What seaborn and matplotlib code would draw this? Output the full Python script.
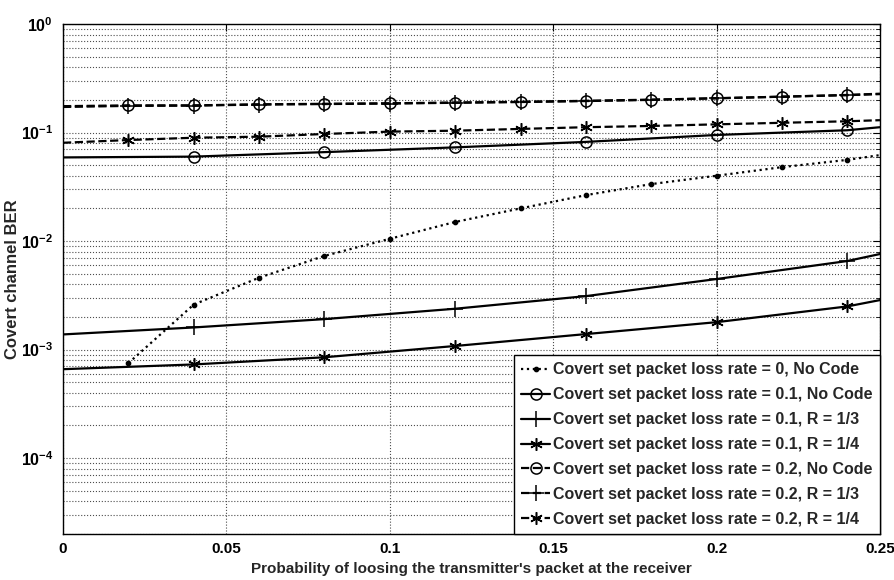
import matplotlib
matplotlib.use("Agg")
import matplotlib.pyplot as plt
import numpy as np
import seaborn as sns
from matplotlib.ticker import FixedLocator, FuncFormatter, LogLocator, NullFormatter

sns.set_style("white")
plt.rcParams["font.family"] = ["Liberation Sans", "DejaVu Sans"]
plt.rcParams["font.weight"] = "bold"
plt.rcParams["mathtext.fontset"] = "custom"
plt.rcParams["mathtext.rm"] = "Liberation Sans:bold"
plt.rcParams["mathtext.bf"] = "Liberation Sans:bold"

# x grids used by the curves
x_fine = [0.0, 0.02, 0.04, 0.06, 0.08, 0.10, 0.12, 0.14, 0.16, 0.18, 0.20, 0.22, 0.24, 0.25]
x_dot = [0.02, 0.04, 0.06, 0.08, 0.10, 0.12, 0.14, 0.16, 0.18, 0.20, 0.22, 0.24, 0.25]
x_coarse = [0.0, 0.04, 0.08, 0.12, 0.16, 0.20, 0.24, 0.25]

# BER values
ber_p0_nocode = [7.5e-4, 2.6e-3, 4.6e-3, 7.3e-3, 1.05e-2, 1.5e-2, 2.0e-2, 2.65e-2,
                 3.35e-2, 4.0e-2, 4.8e-2, 5.6e-2, 6.2e-2]
ber_p1_nocode = [5.9e-2, 6.0e-2, 6.6e-2, 7.3e-2, 8.2e-2, 9.5e-2, 0.105, 0.112]
ber_p1_r13 = [1.38e-3, 1.6e-3, 1.91e-3, 2.38e-3, 3.11e-3, 4.47e-3, 6.55e-3, 7.6e-3]
ber_p1_r14 = [6.6e-4, 7.3e-4, 8.5e-4, 1.08e-3, 1.39e-3, 1.79e-3, 2.5e-3, 2.86e-3]
ber_p2_nocode = [0.175, 0.178, 0.178, 0.182, 0.184, 0.186, 0.189, 0.192, 0.196,
                 0.201, 0.207, 0.214, 0.221, 0.226]
ber_p2_r13 = [0.172, 0.176, 0.177, 0.181, 0.183, 0.185, 0.188, 0.191, 0.195,
              0.200, 0.207, 0.214, 0.222, 0.228]
ber_p2_r14 = [0.0805, 0.0853, 0.0896, 0.0916, 0.097, 0.102, 0.104, 0.108, 0.112,
              0.115, 0.119, 0.123, 0.127, 0.130]

labels = [
    "Covert set packet loss rate = 0, No Code",
    "Covert set packet loss rate = 0.1, No Code",
    "Covert set packet loss rate = 0.1, R = 1/3",
    "Covert set packet loss rate = 0.1, R = 1/4",
    "Covert set packet loss rate = 0.2, No Code",
    "Covert set packet loss rate = 0.2, R = 1/3",
    "Covert set packet loss rate = 0.2, R = 1/4",
]

asterisk = (6, 2, 0)
series = [
    (x_dot, ber_p0_nocode, ":", ".", 6, slice(0, 12)),
    (x_coarse, ber_p1_nocode, "-", "o", 8, slice(1, 7)),
    (x_coarse, ber_p1_r13, "-", "+", 11, slice(1, 7)),
    (x_coarse, ber_p1_r14, "-", asterisk, 9, slice(1, 7)),
    (x_fine, ber_p2_nocode, "--", "o", 8, slice(1, 13)),
    (x_fine, ber_p2_r13, "--", "+", 11, slice(1, 13)),
    (x_fine, ber_p2_r14, "--", asterisk, 9, slice(1, 13)),
]

fig = plt.figure(figsize=(8.95, 5.8), dpi=100)
ax = fig.add_axes([0.0704, 0.0793, 0.9128, 0.8793])

for (xs, ys, ls, mk, ms, every), lab in zip(series, labels):
    sns.lineplot(
        x=xs, y=ys, ax=ax, color="black", linestyle=ls, linewidth=1.6,
        marker=mk, markersize=ms, markevery=every,
        markerfacecolor="black" if mk == "." else "none",
        markeredgecolor="black", markeredgewidth=1.1,
        label=lab, errorbar=None,
    )

ax.set_yscale("log")
ax.set_xlim(0, 0.25)
ax.set_ylim(2e-5, 1)

ax.xaxis.set_major_locator(FixedLocator([0, 0.05, 0.1, 0.15, 0.2, 0.25]))
ax.xaxis.set_major_formatter(FuncFormatter(lambda v, _: f"{v:g}"))
ax.yaxis.set_major_locator(FixedLocator([1e-4, 1e-3, 1e-2, 1e-1, 1]))
ax.yaxis.set_major_formatter(
    FuncFormatter(lambda v, _: r"$\mathbf{10^{%d}}$" % round(np.log10(v))))
ax.yaxis.set_minor_locator(LogLocator(base=10, subs=np.arange(2, 10), numticks=20))
ax.yaxis.set_minor_formatter(NullFormatter())

ax.grid(True, which="both", axis="y", linestyle=":", color="0.3", linewidth=0.8)
ax.grid(True, which="major", axis="x", linestyle=":", color="0.3", linewidth=0.8)
ax.tick_params(which="both", direction="in", top=True, right=True, colors="black")
ax.tick_params(which="major", length=5)
ax.tick_params(axis="x", labelsize=11, pad=6)
ax.tick_params(axis="y", labelsize=11.5, pad=7)
ax.tick_params(which="minor", length=3)
for sp in ax.spines.values():
    sp.set_color("black")
    sp.set_linewidth(1.0)

ax.set_xlabel("Probability of loosing the transmitter's packet at the receiver",
              fontsize=11, fontweight="bold", labelpad=4)
ax.set_ylabel("Covert channel BER", fontsize=12, fontweight="bold")
ax.yaxis.set_label_coords(-0.053, 0.5)

leg = ax.legend(loc="lower right", borderaxespad=0, fancybox=False,
                edgecolor="black", framealpha=1, prop={"size": 11.5, "weight": "bold"},
                handlelength=1.8, handletextpad=0.2, labelspacing=0.62, borderpad=0.45)
leg.get_frame().set_linewidth(1.0)

fig.savefig("out.png", dpi=100)
